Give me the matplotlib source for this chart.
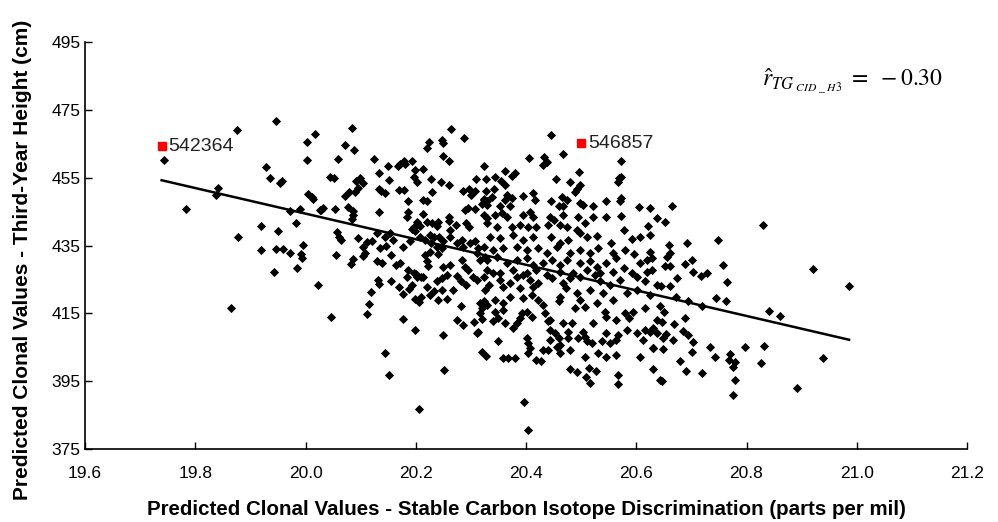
import matplotlib
matplotlib.use("Agg")
import matplotlib.pyplot as plt
import numpy as np

# ---- data ----
x_cid = [
19.947,19.876,20.018,20.003,19.744,20.003,19.928,19.935,19.954,19.958,19.841,19.838,20.005,20.011,20.014,19.783,
19.971,19.990,20.026,19.920,19.982,19.951,19.878,19.995,19.919,19.947,19.959,19.972,19.992,19.994,19.942,19.985,
20.023,19.864,
20.084,20.264,20.288,20.071,20.088,20.224,20.221,20.247,20.249,20.059,20.124,20.250,20.261,20.179,20.181,20.194,
20.167,20.171,20.150,20.133,20.199,20.214,20.324,20.044,20.052,20.151,20.196,20.203,20.228,20.245,20.260,20.309,
20.099,20.092,20.105,20.095,20.090,20.133,20.137,20.145,20.170,20.179,20.079,20.071,20.229,20.285,20.297,20.307,
20.300,20.186,20.214,20.220,20.324,20.329,20.321,20.032,20.028,20.053,20.078,20.087,20.086,20.084,20.133,20.186,
20.185,20.214,20.261,20.290,20.295,20.307,20.323,20.329,20.202,20.208,20.197,20.193,20.199,20.220,20.229,20.241,
20.238,20.261,20.273,20.262,20.291,20.297,20.057,20.061,20.064,20.096,20.111,20.120,20.105,20.129,20.153,20.145,
20.159,20.146,20.136,20.177,20.190,20.208,20.217,20.226,20.233,20.243,20.250,20.227,20.238,20.247,20.262,20.274,
20.286,20.283,20.298,20.307,20.313,20.323,20.055,20.108,20.104,20.155,20.086,20.082,20.129,20.138,20.165,20.171,
20.186,20.196,20.220,20.223,20.241,20.217,20.226,20.250,20.262,20.283,20.289,20.295,20.311,20.317,20.326,20.202,
20.214,20.132,
20.046,20.118,20.116,20.112,20.134,20.155,20.170,20.176,20.188,20.193,20.184,20.200,20.210,20.199,20.205,20.210,
20.220,20.225,20.233,20.238,20.247,20.256,20.241,20.247,20.256,20.267,20.274,20.282,20.282,20.275,20.286,20.292,
20.304,20.311,20.326,20.323,20.329,20.320,20.317,20.320,20.306,20.313,20.311,20.177,20.199,20.249,20.145,20.151,
20.251,20.206,20.321,20.327,
20.445,20.468,20.405,20.433,20.438,20.431,20.572,20.362,20.374,20.380,20.327,20.344,20.355,20.362,20.454,20.496,
20.479,20.569,20.573,20.566,20.498,20.493,20.489,20.327,20.342,20.338,20.323,20.329,20.365,20.374,20.362,20.371,
20.353,20.395,20.412,20.416,20.465,20.474,20.445,20.460,20.467,20.498,20.504,20.546,20.573,20.570,20.605,20.625,
20.522,20.395,20.407,20.413,20.344,20.356,20.365,20.444,20.450,20.468,20.495,20.522,20.546,20.573,20.638,20.329,
20.347,20.374,20.389,20.404,20.419,20.440,20.462,20.475,20.492,20.507,20.577,20.622,20.335,20.353,20.377,20.395,
20.413,20.446,20.462,20.477,20.456,20.498,20.510,20.528,20.555,20.592,20.607,20.625,20.580,20.596,20.341,20.359,
20.383,20.401,20.422,20.438,20.480,20.498,20.516,20.531,20.558,20.564,20.625,20.619,20.607,20.628,20.592,20.601,
20.329,20.347,20.365,20.383,20.401,20.413,20.431,20.447,20.462,20.474,20.498,20.516,20.528,20.546,20.329,20.353,
20.377,20.401,20.419,20.438,20.462,20.486,20.510,20.534,20.558,20.577,
20.323,20.341,20.353,20.371,20.383,20.395,20.407,20.422,20.332,20.359,20.389,20.413,20.447,20.468,20.480,20.498,
20.525,20.534,20.552,20.571,20.619,20.616,20.637,20.473,20.492,20.516,20.540,20.558,20.583,20.601,20.317,20.344,
20.359,20.371,20.395,20.410,20.422,20.431,20.434,20.444,20.459,20.462,20.498,20.489,20.507,20.528,20.543,20.546,
20.564,20.580,20.586,20.595,20.616,20.344,20.359,20.350,20.362,20.341,20.377,20.383,20.392,20.401,20.389,20.410,
20.440,20.444,20.453,20.444,20.459,20.462,20.456,20.468,20.483,20.477,20.477,20.480,20.495,20.504,20.507,20.510,
20.522,20.519,20.537,20.546,20.552,20.567,20.583,20.564,20.601,20.613,20.616,20.631,20.637,20.350,20.401,20.404,
20.407,20.404,20.359,20.368,20.380,20.431,20.440,20.419,20.428,20.462,20.507,20.531,20.546,20.563,20.607,20.631,
20.480,20.492,20.515,20.527,20.509,20.516,20.567,20.567,20.630,20.643,20.396,20.404,
20.664,20.652,20.830,20.749,20.660,20.692,20.661,20.656,20.628,20.652,20.662,20.688,20.701,20.757,20.703,20.717,
20.729,20.921,20.674,
20.764,20.645,20.662,20.673,20.625,20.693,20.719,20.744,20.762,20.986,20.643,20.650,20.688,20.637,20.646,20.668,
20.685,20.693,20.648,20.654,20.625,20.667,20.703,20.631,20.648,20.702,20.734,20.742,20.770,20.769,20.779,20.776,
20.798,20.832,20.840,20.860,20.679,20.690,20.720,20.826,20.938,20.647,20.780,20.775,20.892,
]
y_height = [
471.7,469.2,468.0,465.4,460.3,460.2,458.2,455.0,453.5,454.0,452.0,449.8,450.1,449.3,448.8,445.9,
445.2,445.8,445.5,440.8,441.6,439.3,437.6,435.1,433.6,433.9,434.0,432.9,432.5,431.3,427.1,428.5,
423.4,416.5,
469.6,469.3,466.7,464.5,463.1,465.4,463.7,466.2,465.1,460.5,460.6,461.4,459.8,460.0,459.0,460.0,
458.3,459.0,458.5,456.5,457.3,457.5,458.5,455.3,455.0,454.4,455.3,453.7,454.7,453.8,452.9,454.7,
455.0,453.9,453.5,451.9,450.9,451.8,451.2,450.5,451.4,451.4,450.9,449.6,450.7,451.1,451.8,451.1,
449.8,448.0,448.4,448.2,448.8,448.0,447.2,446.1,445.4,445.7,446.3,445.2,444.0,442.9,445.0,444.9,
443.4,444.4,443.4,445.5,446.1,445.9,444.0,443.1,441.8,440.8,440.6,439.8,439.4,441.8,441.6,441.9,
440.7,442.3,440.9,439.6,441.6,440.6,439.1,437.6,436.7,437.2,435.9,436.4,434.7,438.6,438.6,437.6,
436.7,434.9,434.4,434.7,436.2,437.6,436.7,438.1,437.5,437.6,436.2,435.7,434.7,434.2,437.6,435.7,
434.7,436.7,435.7,436.2,434.2,434.7,432.2,432.7,431.9,432.2,431.0,429.5,430.3,429.8,429.3,429.8,
427.8,426.8,430.3,429.1,432.5,432.2,433.2,428.8,429.3,430.8,428.8,427.8,432.7,430.8,431.7,425.8,
425.8,424.9,
413.9,421.3,417.7,414.9,423.6,424.5,422.9,420.7,422.1,423.3,425.8,426.6,425.8,419.3,418.3,419.9,
422.9,420.4,421.7,424.4,425.4,426.3,419.0,421.9,419.2,421.9,426.0,424.6,417.2,413.1,411.5,423.4,
425.8,424.9,421.9,418.5,417.5,416.5,415.0,413.3,412.3,409.6,409.1,413.4,410.1,408.5,403.3,396.7,
398.3,386.7,403.5,402.5,
467.5,461.9,460.8,461.1,459.5,458.8,459.8,457.0,455.6,456.3,454.7,455.2,454.0,452.9,454.7,456.8,
453.8,454.9,455.3,453.8,452.9,451.6,450.7,451.2,451.8,449.4,448.5,447.0,449.9,449.0,448.5,446.7,
446.7,449.6,450.4,448.5,449.4,448.5,448.0,446.5,446.7,447.5,447.0,448.2,449.0,448.0,446.3,446.1,
446.7,444.0,445.0,443.5,444.0,444.5,443.5,443.5,442.6,444.0,443.5,443.5,443.5,443.7,443.1,441.6,
440.6,440.6,441.1,440.6,440.6,441.1,441.1,440.6,439.6,441.6,439.6,440.8,437.6,437.2,438.1,436.7,
437.6,437.6,435.7,436.7,434.7,438.6,437.6,437.8,435.7,436.9,437.5,438.1,433.7,432.5,433.7,434.2,
434.7,433.7,434.2,432.7,432.7,433.7,432.7,434.2,432.7,431.3,433.2,430.8,429.8,427.8,426.8,425.8,
430.8,431.7,429.8,430.8,431.3,429.3,429.8,430.8,429.3,430.8,429.8,430.3,428.8,429.8,427.8,426.8,
427.8,426.8,427.8,426.3,427.3,426.8,427.8,426.8,427.3,428.3,
425.8,426.8,424.9,423.9,425.8,426.3,424.9,423.9,423.4,422.9,422.4,422.9,425.4,423.9,425.4,425.8,
426.3,424.4,423.4,424.9,427.3,424.4,423.4,422.4,420.9,421.9,420.9,419.0,420.9,421.9,418.0,419.0,
418.0,419.9,419.5,420.4,419.0,417.5,415.0,413.1,418.5,419.9,419.0,416.5,417.0,418.0,415.5,414.0,
413.1,415.0,413.6,415.5,416.5,415.5,416.0,413.6,412.1,412.6,410.6,412.1,415.0,415.5,413.6,414.0,
412.6,410.1,409.1,407.2,407.7,405.7,405.2,412.1,412.1,409.6,407.7,404.2,407.7,409.6,408.1,406.7,
412.1,406.2,406.7,409.1,406.2,408.6,410.1,407.2,409.1,407.2,410.1,410.6,409.1,406.7,407.7,406.2,
404.7,403.2,401.8,401.8,401.8,404.2,404.2,401.3,401.0,403.2,402.2,403.2,402.1,402.6,402.2,404.7,
398.6,397.6,399.0,398.1,396.2,394.4,396.9,394.2,398.5,395.4,388.8,380.5,
446.7,441.8,440.9,436.6,435.2,435.7,432.9,431.7,431.3,429.1,429.0,429.5,430.8,429.3,427.1,426.1,
426.8,428.1,425.4,
424.1,423.1,423.1,419.9,420.4,418.5,417.2,419.6,418.7,423.2,417.2,415.3,413.7,413.1,412.4,411.9,
409.9,408.6,407.7,408.9,409.6,407.2,406.5,404.9,404.4,403.6,405.2,402.1,402.9,401.3,400.7,399.3,
405.1,405.4,415.8,414.3,401.0,397.9,397.3,400.5,401.9,395.1,395.3,391.0,393.0,
]

# highlighted clones
clone_ids = ["542364", "546857"]
clone_x = [19.739, 20.500]
clone_y = [464.2, 465.1]

# fitted regression line
fit_slope = -37.71
fit_intercept = 1198.6
r_text = r"$\hat{r}_{TG_{\ CID\ \_\ H3}}\ =\ -0.30$"

x_ticks = [19.6, 19.8, 20.0, 20.2, 20.4, 20.6, 20.8, 21.0, 21.2]
y_ticks = [375, 395, 415, 435, 455, 475, 495]

# ---- figure ----
plt.rcParams["font.family"] = ["Liberation Sans", "DejaVu Sans"]
plt.rcParams["mathtext.fontset"] = "stix"

fig = plt.figure(figsize=(9.98, 5.22), dpi=100)
ax = fig.add_axes([85 / 998, 73 / 522, 882 / 998, 407 / 522])

ax.plot(x_cid, y_height, linestyle="none", marker="D", markersize=3.9,
        markerfacecolor="black", markeredgecolor="black", markeredgewidth=0.6, zorder=3)

all_x = np.array(list(x_cid) + list(clone_x))
xl = np.array([all_x.min(), all_x.max()])
ax.plot(xl, fit_intercept + fit_slope * xl, color="black", linewidth=1.8, zorder=4)

ax.plot(clone_x, clone_y, linestyle="none", marker="s", markersize=5.5,
        markerfacecolor="#ff0000", markeredgecolor="#ff0000", zorder=5)
for cid, cx, cy in zip(clone_ids, clone_x, clone_y):
    ax.annotate(cid, (cx, cy), xytext=(5, 0), textcoords="offset points",
                ha="left", va="center", fontsize=14, color="#222222")

ax.text(0.768, 0.905, r_text, transform=ax.transAxes, fontsize=17,
        ha="left", va="center", color="black")

ax.set_xlim(19.6, 21.2)
ax.set_ylim(375, 495)
ax.set_xticks(x_ticks)
ax.set_xticklabels([f"{v:.1f}" for v in x_ticks])
ax.set_yticks(y_ticks)
ax.set_yticklabels([str(v) for v in y_ticks])
ax.tick_params(direction="in", length=5, width=1, labelsize=12.5)
ax.tick_params(axis="x", pad=12)
ax.tick_params(axis="y", pad=3)
for s in ["top", "right"]:
    ax.spines[s].set_visible(False)
for s in ["left", "bottom"]:
    ax.spines[s].set_linewidth(1.2)

ax.set_xlabel("Predicted Clonal Values - Stable Carbon Isotope Discrimination (parts per mil)",
              fontsize=14.8, fontweight="bold", labelpad=14)
ax.set_ylabel("Predicted Clonal Values - Third-Year Height (cm)",
              fontsize=15, fontweight="bold", va="center")
ax.yaxis.set_label_coords(-0.0714, 0.464)

fig.savefig("out.png", dpi=100)
